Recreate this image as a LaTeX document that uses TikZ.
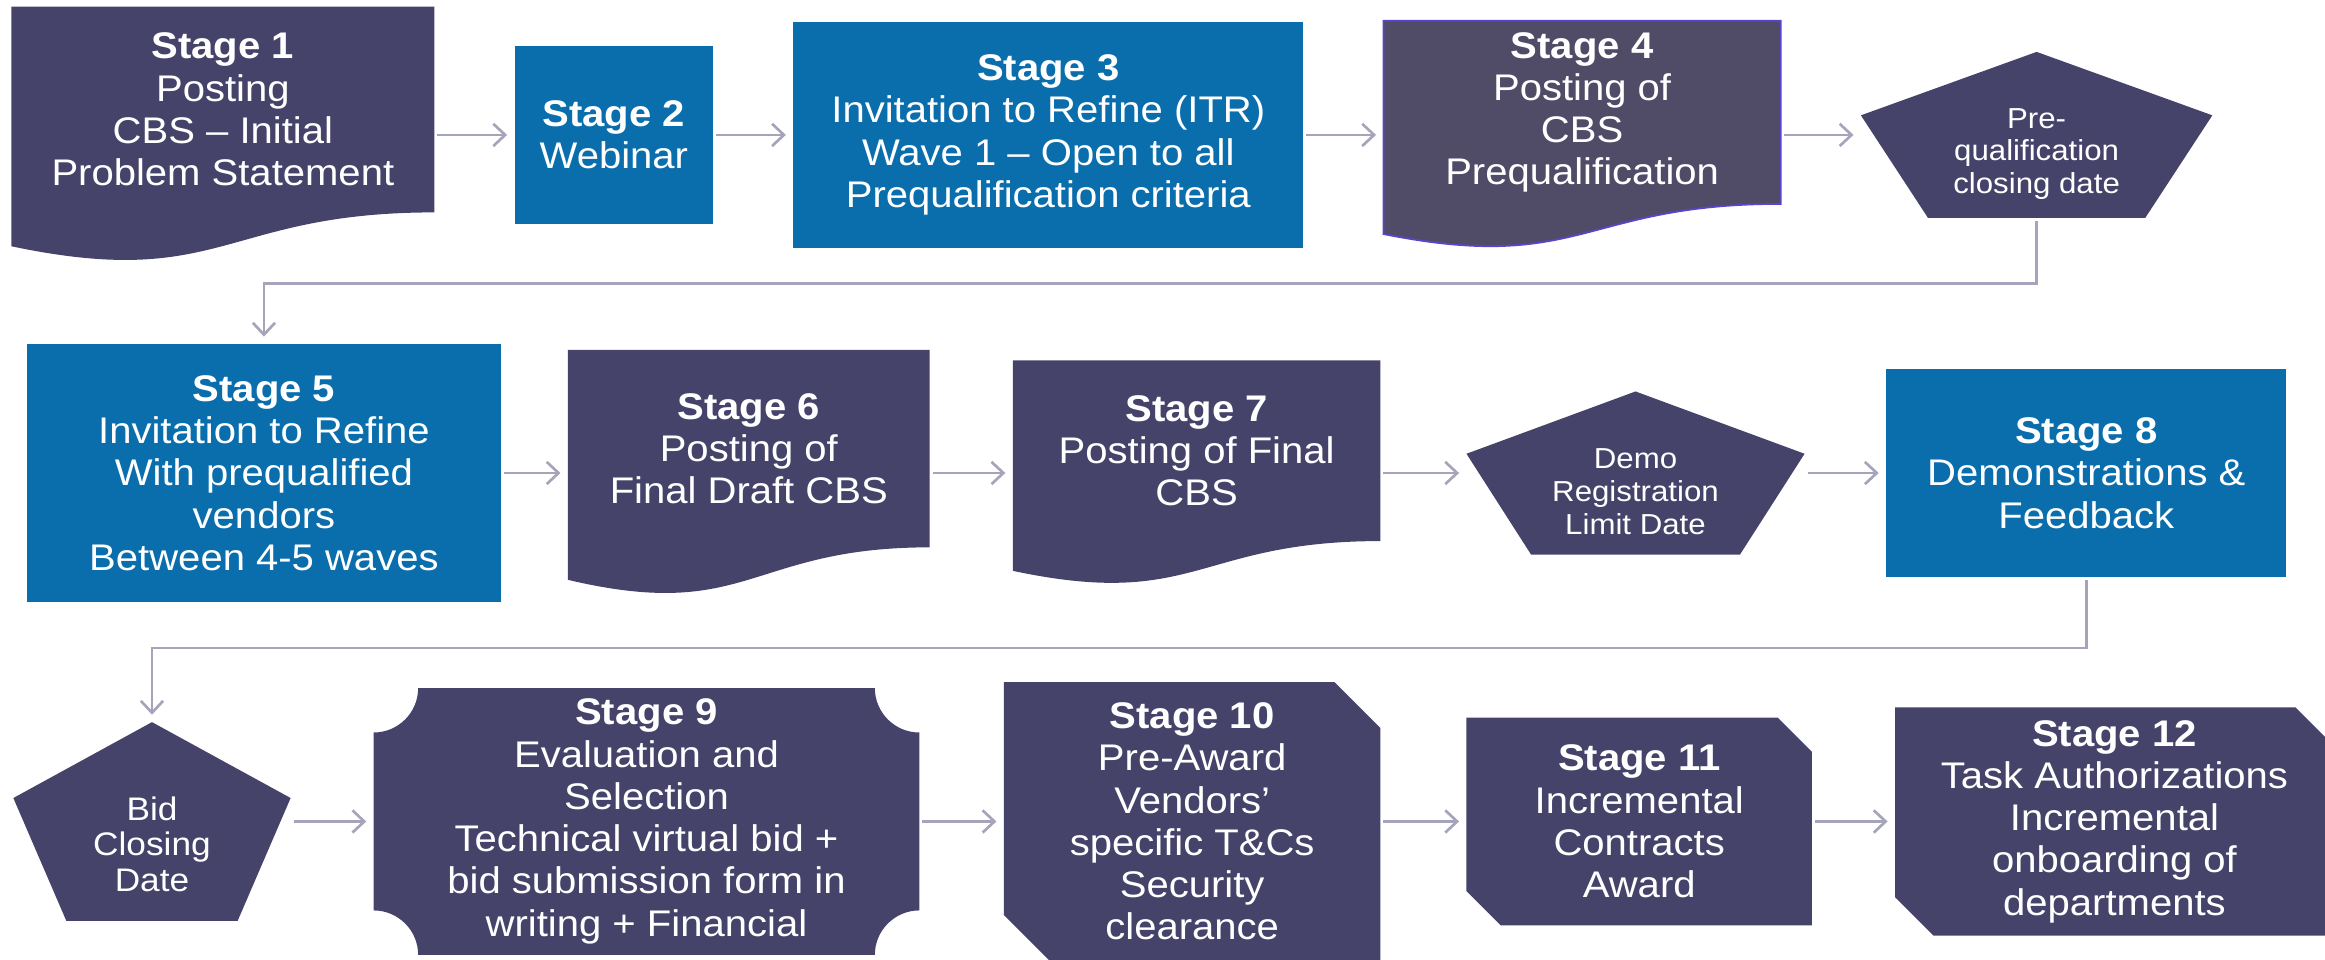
\documentclass[tikz,border=0pt]{standalone}
\usepackage{fontspec}
\setmainfont{Liberation Sans}[FakeStretch=1.08]
\usetikzlibrary{calc,arrows.meta}
\definecolor{navy}{HTML}{46436A}
\definecolor{bluebox}{HTML}{0A6EAD}
\definecolor{navytwo}{HTML}{504C68}
\definecolor{violetline}{HTML}{5A44CC}
\definecolor{conn}{HTML}{A5A4BB}
\newcommand\docpath[2]{%
  \path[#2] (#1.north west) -- (#1.north east) -- ($(#1.north east)!0.802!(#1.south east)$)
    .. controls ($(#1.north)!0.802!(#1.south)$) and ($(#1.north)!1.1075!(#1.south)$) ..
    ($(#1.north west)!0.934!(#1.south west)$) -- cycle;}
\newcommand\pentpath[1]{%
  \fill[navy] (#1.north) -- ($(#1.north east)!0.382!(#1.south east)$) -- ($(#1.south east)!0.191!(#1.south west)$)
    -- ($(#1.south west)!0.191!(#1.south east)$) -- ($(#1.north west)!0.382!(#1.south west)$) -- cycle;}
\newcommand\snippath[2]{%
  \fill[navy] (#1.north west) -- ($(#1.north east)+(-#2,0)$) -- ($(#1.north east)+(0,-#2)$) -- (#1.south east)
    -- ($(#1.south west)+(#2,0)$) -- ($(#1.south west)+(0,#2)$) -- cycle;}
\begin{document}
\begin{tikzpicture}[x=1pt,y=1pt,
  bb/.style={inner sep=0pt, outer sep=0pt, draw=none},
  txt/.style={text=white, align=center, font=\fontsize{25}{28.5}\selectfont, inner sep=0pt},
  ptxt/.style={text=white, align=center, font=\fontsize{19.5}{22}\selectfont, inner sep=0pt},
  arr/.style={draw=conn, line width=1.8pt, -{Straight Barb[length=8pt,width=15pt,line width=1.8pt]}, shorten <=2pt, shorten >=5pt},
]
\useasboundingbox (0,0) rectangle (1568,-647);
\fill[white] (0,0) rectangle (1568,-647);
\clip (0,0) rectangle (1568,-647);

% ---------- Row 1 ----------
\node[bb, minimum width=285.4pt, minimum height=173pt] (s1) at (150.3,-91) {};
\docpath{s1}{fill=navy}
\node[txt] (t1) at ($(s1.north)!0.401!(s1.south)$) {\textbf{Stage 1}\\Posting\\CBS – Initial\\Problem Statement};

\node[bb, minimum width=134pt, minimum height=120pt, fill=bluebox] (s2) at (414,-91) {};
\node[txt] (t2) at (s2.center) {\textbf{Stage 2}\\Webinar};

\node[bb, minimum width=344pt, minimum height=152pt, fill=bluebox] (s3) at (707,-91) {};
\node[txt] (t3) at (s3.center) {\textbf{Stage 3}\\Invitation to Refine (ITR)\\Wave 1 – Open to all\\Prequalification criteria};

\node[bb, minimum width=268pt, minimum height=154pt] (s4) at (1067,-91) {};
\docpath{s4}{fill=navytwo, draw=violetline, line width=1.2pt}
\node[txt] (t4) at ($(s4.north)!0.401!(s4.south)$) {\textbf{Stage 4}\\Posting of\\CBS\\Prequalification};

\node[bb, minimum width=237pt, minimum height=112pt] (p1) at (1373.5,-91) {};
\pentpath{p1}
\node[ptxt] (tp1) at ($(p1.north)!0.615!(p1.south)$) {Pre-\\qualification\\closing date};

% ---------- Row 2 ----------
\node[bb, minimum width=320pt, minimum height=174pt, fill=bluebox] (s5) at (178,-319) {};
\node[txt] (t5) at (s5.center) {\textbf{Stage 5}\\Invitation to Refine\\With prequalified\\vendors\\Between 4-5 waves};

\node[bb, minimum width=244pt, minimum height=166pt] (s6) at (505,-319) {};
\docpath{s6}{fill=navy}
\node[txt] (t6) at ($(s6.north)!0.401!(s6.south)$) {\textbf{Stage 6}\\Posting of\\Final Draft CBS};

\node[bb, minimum width=248pt, minimum height=152pt] (s7) at (807,-319) {};
\docpath{s7}{fill=navy}
\node[txt] (t7) at ($(s7.north)!0.401!(s7.south)$) {\textbf{Stage 7}\\Posting of Final\\CBS};

\node[bb, minimum width=228pt, minimum height=110pt] (p2) at (1103,-319) {};
\pentpath{p2}
\node[ptxt] (tp2) at ($(p2.north)!0.615!(p2.south)$) {Demo\\Registration\\Limit Date};

\node[bb, minimum width=270pt, minimum height=140pt, fill=bluebox] (s8) at (1407,-319) {};
\node[txt] (t8) at (s8.center) {\textbf{Stage 8}\\Demonstrations \&\\Feedback};

% ---------- Row 3 ----------
\node[bb, minimum width=187pt, minimum height=134pt] (p3) at (102.5,-554) {};
\pentpath{p3}
\node[ptxt, font=\fontsize{22}{24}\selectfont] (tp3) at ($(p3.north)!0.615!(p3.south)$) {Bid\\Closing\\Date};

\node[bb, minimum width=368pt, minimum height=180pt] (s9) at (436,-554) {};
\fill[navy] ($(s9.north west)+(30,0)$) -- ($(s9.north east)+(-30,0)$) arc[start angle=180,end angle=270,radius=30]
  -- ($(s9.south east)+(0,30)$) arc[start angle=90,end angle=180,radius=30]
  -- ($(s9.south west)+(30,0)$) arc[start angle=0,end angle=90,radius=30]
  -- ($(s9.north west)+(0,-30)$) arc[start angle=-90,end angle=0,radius=30] -- cycle;
\node[txt] (t9) at (s9.center) {\textbf{Stage 9}\\Evaluation and\\Selection\\Technical virtual bid +\\bid submission form in\\writing + Financial};

\node[bb, minimum width=254pt, minimum height=188pt] (s10) at (804,-554) {};
\snippath{s10}{31}
\node[txt] (t10) at (s10.center) {\textbf{Stage 10}\\Pre-Award\\Vendors’\\specific T\&Cs\\Security\\clearance};

\node[bb, minimum width=233pt, minimum height=140pt] (s11) at (1105.5,-554) {};
\snippath{s11}{23}
\node[txt] (t11) at (s11.center) {\textbf{Stage 11}\\Incremental\\Contracts\\Award};

\node[bb, minimum width=296pt, minimum height=154pt] (s12) at (1426,-554) {};
\snippath{s12}{26}
\node[txt] (t12) at (s12.center) {\textbf{Stage 12}\\Task Authorizations\\Incremental\\onboarding of\\departments};

% ---------- Connectors ----------
\draw[arr] (s1.east) -- (s2.west);
\draw[arr] (s2.east) -- (s3.west);
\draw[arr] (s3.east) -- (s4.west);
\draw[arr] (s4.east) -- (p1.west);
\draw[arr] (p1.south) -- ++(0,-44) -| (s5.north);
\draw[arr] (s5.east) -- (s6.west);
\draw[arr] (s6.east) -- (s7.west);
\draw[arr] (s7.east) -- (p2.west);
\draw[arr] (p2.east) -- (s8.west);
\draw[arr] (s8.south) -- ++(0,-48) -| (p3.north);
\draw[arr] (p3.east) -- (s9.west);
\draw[arr] (s9.east) -- (s10.west);
\draw[arr] (s10.east) -- (s11.west);
\draw[arr] (s11.east) -- (s12.west);
\end{tikzpicture}
\end{document}
